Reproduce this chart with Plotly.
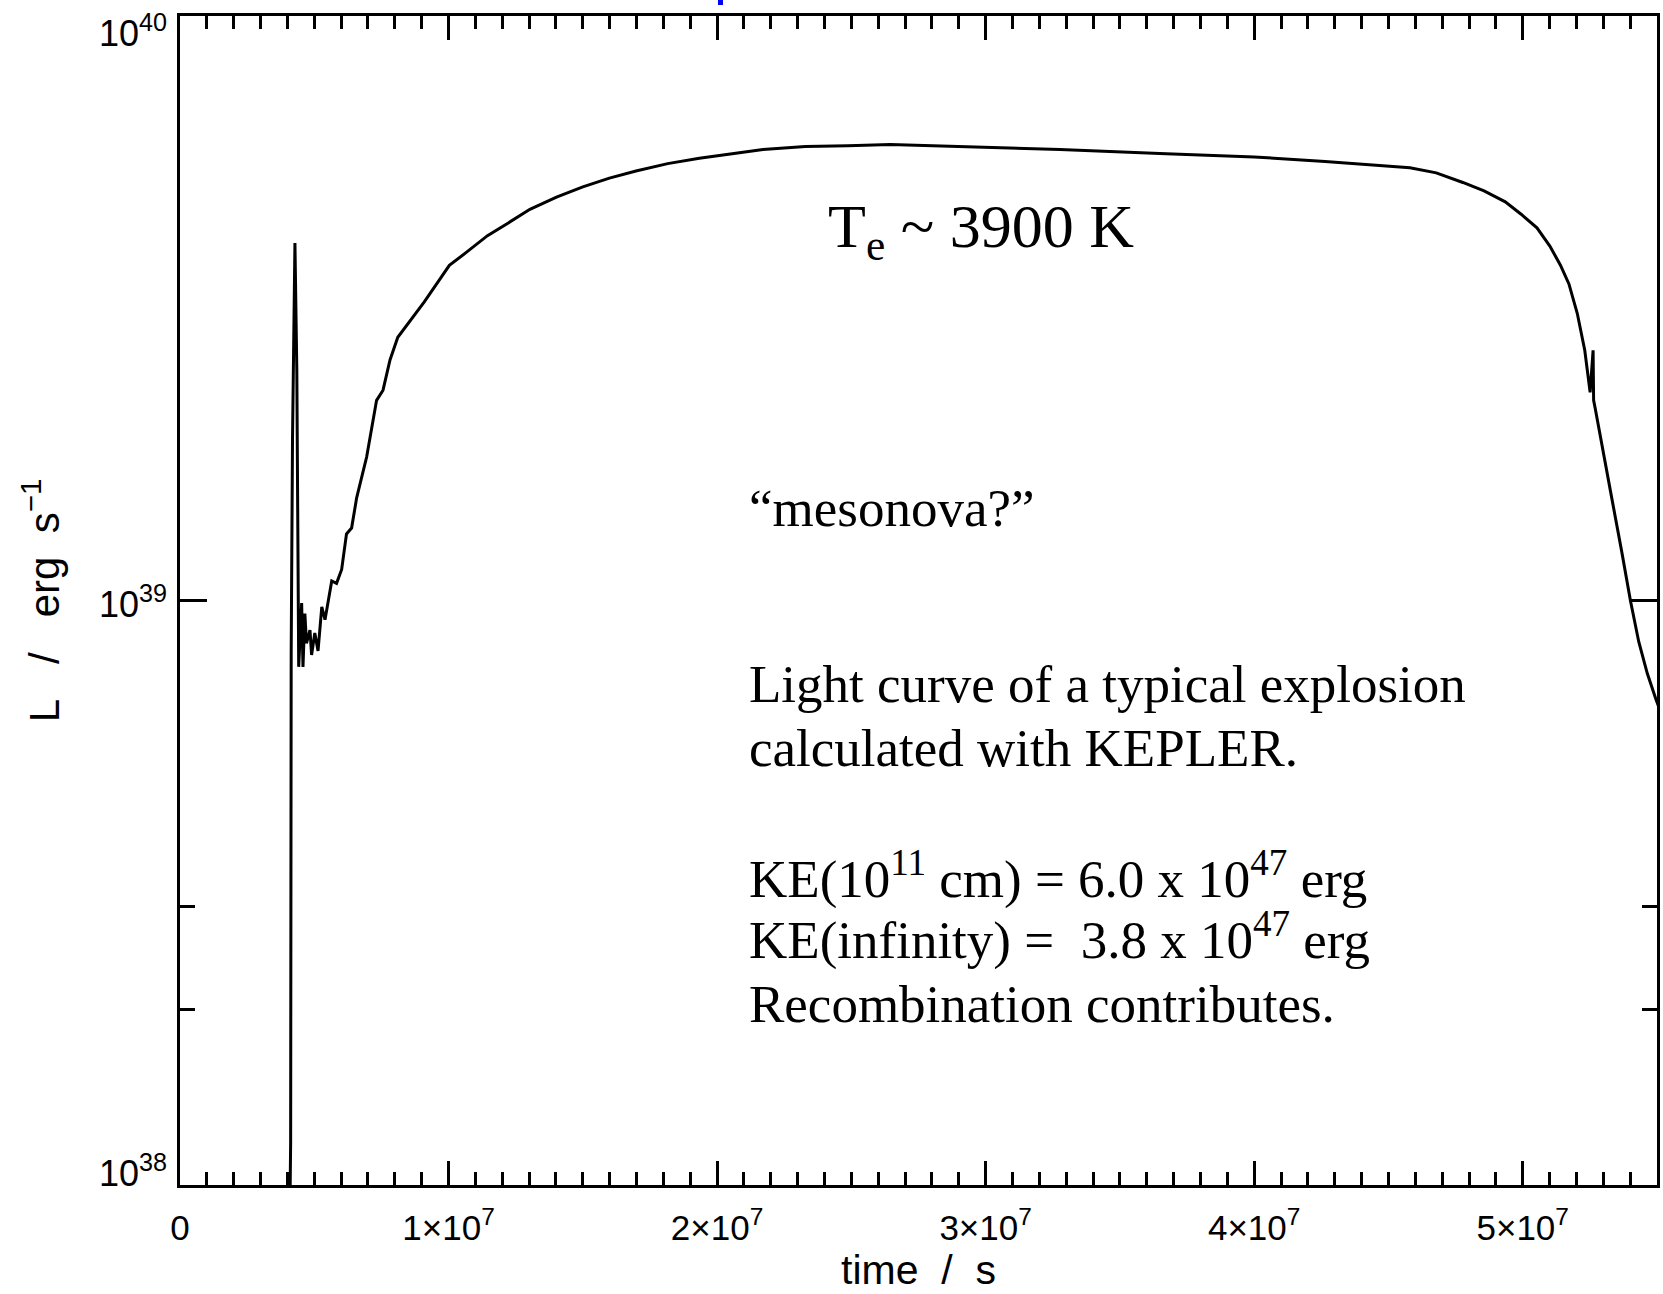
import plotly.graph_objects as go

# Light curve (time in s, luminosity in erg/s)
time_s = [
    4.08e6, 4.10e6, 4.12e6, 4.14e6, 4.19e6, 4.28e6, 4.35e6, 4.42e6, 4.53e6, 4.58e6,
    4.65e6, 4.71e6, 4.84e6, 4.90e6, 5.02e6, 5.14e6, 5.28e6, 5.40e6, 5.51e6, 5.65e6,
    5.83e6, 6.02e6, 6.20e6, 6.39e6, 6.58e6, 6.95e6, 7.32e6, 7.56e6, 7.82e6, 8.11e6,
    9.09e6, 1.003e7, 1.066e7, 1.145e7, 1.224e7, 1.303e7, 1.402e7, 1.500e7, 1.599e7, 1.698e7,
    1.816e7, 1.934e7, 2.171e7, 2.329e7, 2.487e7, 2.645e7, 2.803e7, 3.000e7, 3.277e7, 3.672e7,
    4.000e7, 4.264e7, 4.461e7, 4.580e7, 4.678e7, 4.777e7, 4.856e7, 4.935e7, 4.994e7, 5.053e7,
    5.101e7, 5.140e7, 5.172e7, 5.203e7, 5.231e7, 5.251e7, 5.262e7, 5.264e7, 5.270e7, 5.298e7,
    5.330e7, 5.369e7, 5.401e7, 5.432e7, 5.464e7, 5.495e7, 5.527e7,
]
lum_erg_s = [
    8.0e37, 1.0e38, 1.18e38, 8.13e38, 1.90e39, 4.09e39, 2.48e39, 7.7e38, 9.9e38, 7.7e38,
    9.5e38, 8.45e38, 8.9e38, 8.07e38, 8.8e38, 8.2e38, 9.75e38, 9.27e38, 1.0e39, 1.08e39,
    1.07e39, 1.13e39, 1.30e39, 1.33e39, 1.50e39, 1.76e39, 2.20e39, 2.29e39, 2.58e39, 2.82e39,
    3.24e39, 3.745e39, 3.94e39, 4.21e39, 4.43e39, 4.67e39, 4.90e39, 5.10e39, 5.28e39, 5.43e39,
    5.59e39, 5.71e39, 5.91e39, 5.98e39, 6.00e39, 6.03e39, 6.00e39, 5.96e39, 5.91e39, 5.81e39,
    5.74e39, 5.64e39, 5.55e39, 5.50e39, 5.39e39, 5.19e39, 5.02e39, 4.81e39, 4.58e39, 4.34e39,
    4.04e39, 3.75e39, 3.48e39, 3.10e39, 2.68e39, 2.27e39, 2.68e39, 2.20e39, 2.13e39, 1.80e39,
    1.51e39, 1.21e39, 1.00e39, 8.5e38, 7.5e38, 6.8e38, 6.2e38,
]

x_tickvals = [0, 1e7, 2e7, 3e7, 4e7, 5e7]
x_ticktext = ["0", "1×10<sup>7</sup>", "2×10<sup>7</sup>", "3×10<sup>7</sup>",
              "4×10<sup>7</sup>", "5×10<sup>7</sup>"]
y_tick_exponents = [38, 39, 40]
y_ticktext = ["10<sup>38</sup>", "10<sup>39</sup>", "10<sup>40</sup>"]
y_minor_vals = [2e38, 3e38]

text_lines = [
    "“mesonova?”",
    "Light curve of a typical explosion",
    "calculated with KEPLER.",
    "KE(10<sup>11</sup> cm) = 6.0 x 10<sup>47</sup> erg",
    "KE(infinity) =\u00a0 3.8 x 10<sup>47</sup> erg",
    "Recombination contributes.",
]
text_y_px = [508, 684, 748, 875, 936, 1004]

W, H = 1663, 1294
ML, MR, MT, MB = 180, 6, 16, 109
PW = W - ML - MR
PH = H - MT - MB

def px_x(px):
    return (px - ML) / PW

def px_y(py):
    return (H - MB - py) / PH

sans = "Liberation Sans, Arial, sans-serif"
serif = "Liberation Serif, Times New Roman, serif"
nb = "\u00a0"

fig = go.Figure()
fig.add_trace(go.Scatter(
    x=time_s, y=lum_erg_s, mode="lines",
    line=dict(color="black", width=3),
    showlegend=False, hoverinfo="skip",
))

annotations = [
    dict(text="T<sub>e</sub> ~ 3900 K", x=px_x(826), y=px_y(231),
         xref="paper", yref="paper", xanchor="left", yanchor="middle",
         showarrow=False, font=dict(family=serif, size=62, color="black")),
]
for t, py in zip(text_lines, text_y_px):
    annotations.append(dict(text=t, x=px_x(747), y=px_y(py), xref="paper", yref="paper",
                            xanchor="left", yanchor="middle", showarrow=False,
                            font=dict(family=serif, size=53, color="black")))

# y tick labels, anchored to the log axis (IDL-style: end labels kept inside the frame)
y_anchor = {38: "bottom", 39: "middle", 40: "top"}
y_shift = {38: -11, 39: -1, 40: 10}
for e, lab in zip(y_tick_exponents, y_ticktext):
    annotations.append(dict(text=lab, x=0, xref="paper", y=e, yref="y",
                            xanchor="right", yanchor=y_anchor[e], xshift=-11,
                            yshift=y_shift[e], showarrow=False,
                            font=dict(family=sans, size=36, color="black")))

fig.update_layout(
    width=W, height=H,
    margin=dict(l=ML, r=MR, t=MT, b=MB, autoexpand=False),
    paper_bgcolor="white", plot_bgcolor="white",
    annotations=annotations,
    shapes=[dict(type="rect", xref="paper", yref="paper",
                 x0=px_x(718), x1=px_x(723), y0=px_y(5), y1=px_y(0),
                 fillcolor="blue", line=dict(width=0))],
)

fig.update_xaxes(
    range=[0, 5.5e7], showgrid=False, zeroline=False, automargin=False,
    showline=True, linecolor="black", linewidth=3, mirror="ticks",
    ticks="inside", ticklen=24, tickwidth=2.5, tickcolor="black",
    tickmode="array", tickvals=x_tickvals, ticktext=x_ticktext,
    tickfont=dict(family=sans, size=35, color="black"),
    ticklabelstandoff=10,
    minor=dict(dtick=1e6, tick0=0, ticks="inside", ticklen=13, tickwidth=2.5,
               tickcolor="black", showgrid=False),
    title=dict(text=f"time{nb}{nb}/{nb}{nb}s", font=dict(family=sans, size=41, color="black"),
               standoff=4),
)
fig.update_yaxes(
    type="log", range=[38, 40], showgrid=False, zeroline=False, automargin=False,
    showline=True, linecolor="black", linewidth=3, mirror="ticks",
    ticks="inside", ticklen=27, tickwidth=2.5, tickcolor="black",
    tickmode="array", tickvals=[10.0 ** e for e in y_tick_exponents],
    showticklabels=False,
    minor=dict(tickmode="array", tickvals=y_minor_vals, ticks="inside", ticklen=15,
               tickwidth=2.5, tickcolor="black", showgrid=False),
    title=dict(text=f"L{nb}{nb}{nb}/{nb}{nb}{nb}erg{nb}{nb}s<sup>−1</sup>",
               font=dict(family=sans, size=42, color="black"), standoff=105),
)

fig.write_html("out.html")
